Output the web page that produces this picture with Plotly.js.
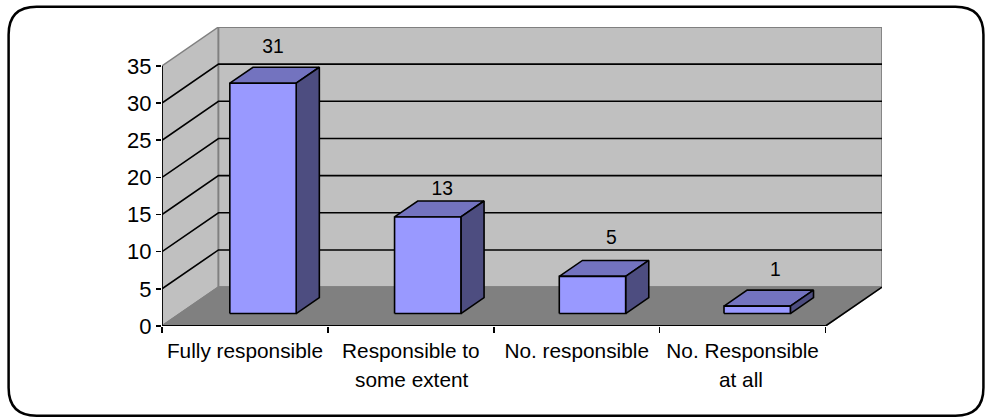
<!DOCTYPE html>
<html>
<head>
<meta charset="utf-8">
<script src="https://cdn.plot.ly/plotly-3.0.1.min.js"></script>
<style>html,body{margin:0;padding:0;background:#fff;overflow:hidden}#chart{width:985px;height:419px}</style>
</head>
<body>
<div id="chart"></div>
<script>
// ---- data ----
const categories = ["Fully responsible", "Responsible to some extent", "No. responsible", "No. Responsible at all"];
const tickLine1 = ["Fully responsible", "Responsible to", "No. responsible", "No. Responsible"];
const tickLine2 = ["", "some extent", "", "at all"];
const values = [31, 13, 5, 1];
const yTicks = [0, 5, 10, 15, 20, 25, 30, 35];

// ---- styling / projection ----
const W = 985, H = 419;
const M = {l: 162, r: 102.5, t: 26.7, b: 92.5};
const YMAX = 35;
const DX = 56.5 / 166, DY = 39 / 7.45;   // wall depth in axis units
const Z0 = 0.32, Z1 = 0.73;              // bar depth extent
const GAP = 0.3, BAR = 0.4, STEP = 0.993;
const labelLift = [2.55, 1.5, 2.83, 2.5];
const labelShift = [-0.076, -0.048, -0.022, -0.026];
const FONT = "Liberation Sans, Arial, sans-serif";
const FS = 20.8;
const C = {front: "#9999FF", top: "#7373BF", side: "#4D4D80", wall: "#C0C0C0", floor: "#808080", edge: "#808080", ink: "#000"};

const P = (x, y, z) => [x + z * DX, y + z * DY];
function poly(pts, fill, lineColor, lw) {
  const p = pts.concat([pts[0]]);
  return {type: "scatter", mode: "lines", x: p.map(a => a[0]), y: p.map(a => a[1]), fill: "toself",
    fillcolor: fill, line: {color: lineColor, width: lw, simplify: false}, hoverinfo: "skip",
    cliponaxis: false, showlegend: false};
}
function seg(a, b, color, lw) {
  return {type: "scatter", mode: "lines", x: [a[0], b[0]], y: [a[1], b[1]],
    line: {color: color, width: lw}, hoverinfo: "skip", cliponaxis: false, showlegend: false};
}
const n = categories.length;
const traces = [];
// walls and floor
traces.push(poly([P(0,0,0), P(0,YMAX,0), P(0,YMAX,1), P(0,0,1)], C.wall, C.edge, 1.5));
traces.push(poly([P(0,0,1), P(0,YMAX,1), P(n,YMAX,1), P(n,0,1)], C.wall, C.edge, 1.8));
traces.push(poly([P(0,0,0), P(0,0,1), P(n,0,1), P(n,0,0)], C.floor, C.edge, 1.5));
// grid lines on both walls
yTicks.filter(t => t > 0 && t < YMAX).forEach(t => {
  traces.push({type: "scatter", mode: "lines",
    x: [P(0,t,0)[0], P(0,t,1)[0], P(n,t,1)[0]], y: [P(0,t,0)[1], P(0,t,1)[1], P(n,t,1)[1]],
    line: {color: C.ink, width: 1.6}, hoverinfo: "skip", cliponaxis: false, showlegend: false});
});
// axis lines
traces.push(seg(P(n,0,0), P(n,0,1), C.ink, 1.6));
traces.push(seg(P(0,0,0), P(n,0,0), C.ink, 2));
traces.push(seg(P(0,0,0), P(0,YMAX,0), C.ink, 1.8));
// bars
values.forEach((v, i) => {
  const a = i * STEP + GAP, b = a + BAR;
  traces.push(poly([P(a,v,Z0), P(a,v,Z1), P(b,v,Z1), P(b,v,Z0)], C.top, C.ink, 1.6));
  traces.push(poly([P(b,0,Z0), P(b,v,Z0), P(b,v,Z1), P(b,0,Z1)], C.side, C.ink, 1.6));
  traces.push(poly([P(a,0,Z0), P(a,v,Z0), P(b,v,Z0), P(b,0,Z0)], C.front, C.ink, 1.6));
});
// value labels
traces.push({type: "scatter", mode: "text", cliponaxis: false, showlegend: false, hoverinfo: "skip",
  x: values.map((v, i) => P(i * STEP + 0.296 + BAR / 2 + labelShift[i], v, Z1)[0]),
  y: values.map((v, i) => P(0, v + labelLift[i], Z1)[1]),
  text: values.map(String), textposition: "middle center",
  textfont: {family: FONT, size: FS - 1.5, color: C.ink}});
// invisible category trace that carries the category axis
traces.push({type: "bar", x: tickLine1, y: values, xaxis: "x2", opacity: 0, hoverinfo: "skip", showlegend: false});

// second lines of the category labels
const annotations = tickLine2.map((t, i) => t ? {
  xref: "x", yref: "paper", x: i + 0.5 + (i === 1 ? 0.01 : -0.01), y: 0, yshift: -40,
  text: t, showarrow: false, xanchor: "center", yanchor: "top",
  font: {family: FONT, size: FS, color: C.ink}} : null).filter(Boolean);

// rounded chart frame, in pixels converted to paper fractions
const pw = W - M.l - M.r, ph = H - M.t - M.b;
const fx = px => (px - M.l) / pw, fy = py => (H - M.b - py) / ph;
const L = 8.5, R = 984, T = 6.5, B = 416.5, Q = 28;
const frame = [
  `M ${fx(L)} ${fy(T+Q)}`, `Q ${fx(L)} ${fy(T)} ${fx(L+Q)} ${fy(T)}`, `L ${fx(R-Q)} ${fy(T)}`,
  `Q ${fx(R)} ${fy(T)} ${fx(R)} ${fy(T+Q)}`, `L ${fx(R)} ${fy(B-Q)}`, `Q ${fx(R)} ${fy(B)} ${fx(R-Q)} ${fy(B)}`,
  `L ${fx(L+Q)} ${fy(B)}`, `Q ${fx(L)} ${fy(B)} ${fx(L)} ${fy(B-Q)}`, "Z"].join(" ");

const layout = {
  width: W, height: H, margin: {l: M.l, r: M.r, t: M.t, b: M.b, pad: 0},
  paper_bgcolor: "#fff", plot_bgcolor: "rgba(0,0,0,0)", showlegend: false,
  font: {family: FONT, size: FS, color: C.ink},
  xaxis: {type: "linear", range: [0, n + DX], tickmode: "array", tickvals: [0,1,2,3,4], ticktext: ["","","","",""],
    showgrid: false, zeroline: false, showline: false, ticks: "outside", ticklen: 6, tickwidth: 1.6, tickcolor: C.ink},
  xaxis2: {type: "category", overlaying: "x", side: "bottom", anchor: "y", range: [-0.5, n - 0.5 + DX],
    categoryorder: "array", categoryarray: tickLine1, showgrid: false, zeroline: false, showline: false,
    ticks: "", tickangle: 0, ticklabelstandoff: 10, tickfont: {family: FONT, size: FS, color: C.ink}},
  yaxis: {range: [0, YMAX + DY], tickmode: "array", tickvals: yTicks, ticktext: yTicks.map(String),
    showgrid: false, zeroline: false, showline: false, ticks: "outside", ticklen: 5, tickwidth: 1.6, tickcolor: C.ink,
    tickfont: {family: FONT, size: 22, color: C.ink}},
  annotations: annotations,
  shapes: [{type: "path", xref: "paper", yref: "paper", path: frame, layer: "below", line: {color: C.ink, width: 2.5}, fillcolor: "rgba(0,0,0,0)"}]
};
Plotly.newPlot("chart", traces, layout, {displayModeBar: false, staticPlot: true});
</script>
</body>
</html>
